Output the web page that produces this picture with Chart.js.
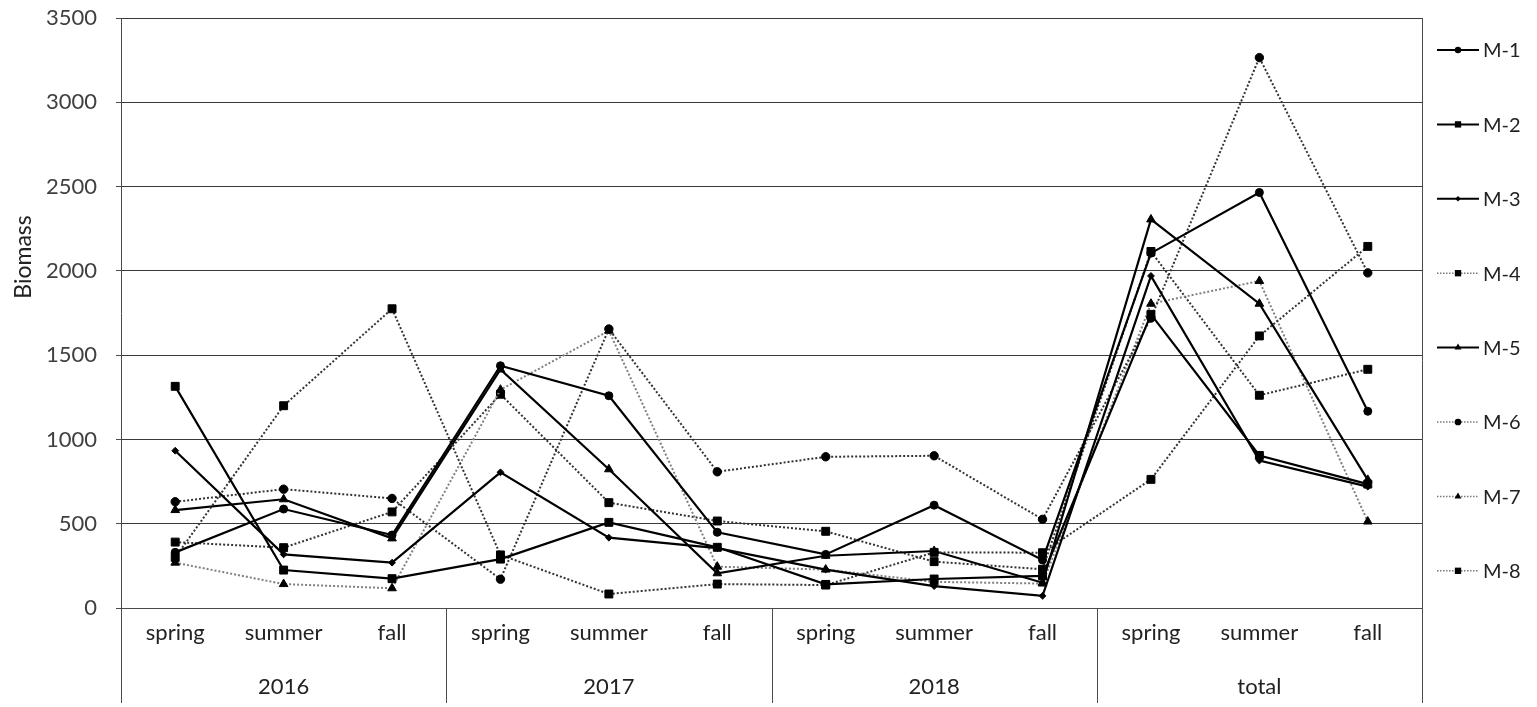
<!DOCTYPE html>
<html>
<head>
<meta charset="utf-8">
<script src="https://cdn.jsdelivr.net/npm/chart.js@4/dist/chart.umd.min.js"></script>
<style>
  html, body { margin: 0; padding: 0; background: #fff; }
  #wrap { width: 1537px; height: 707px; position: relative; }
</style>
</head>
<body>
<div id="wrap"><canvas id="chart"></canvas></div>
<script>
// Seasons repeat within each year group; the last group holds the totals.
const seasons = ['spring', 'summer', 'fall'];
const years = ['2016', '2017', '2018', 'total'];
const categories = years.flatMap(() => seasons);
const yTicks = [0, 500, 1000, 1500, 2000, 2500, 3000, 3500];

// Biomass per site, season by season (2016 → 2018, then totals)
const M1 = [330, 587, 433, 1437, 1259, 449, 318, 610, 285, 2105, 2465, 1167];
const M2 = [1315, 225, 174, 290, 508, 360, 140, 172, 190, 1742, 905, 735];
const M3 = [933, 318, 269, 805, 417, 355, 228, 130, 72, 1970, 875, 720];
const M4 = [300, 1200, 1775, 315, 83, 142, 136, 330, 328, 763, 1614, 2145];
const M5 = [581, 645, 413, 1415, 823, 206, 310, 338, 150, 2305, 1805, 760];
const M6 = [630, 705, 650, 171, 1655, 808, 897, 903, 526, 1720, 3265, 1988];
const M7 = [269, 142, 117, 1295, 1645, 245, 228, 155, 145, 1805, 1940, 513];
const M8 = [391, 358, 570, 1268, 625, 516, 455, 275, 230, 2115, 1262, 1416];

const seriesNames = ['M-1', 'M-2', 'M-3', 'M-4', 'M-5', 'M-6', 'M-7', 'M-8'];
const seriesValues = [M1, M2, M3, M4, M5, M6, M7, M8];

// Drawing styles for each site's line and marker
const looks = {
  'M-1': { point: 'circle',   r: 4,   dotted: false, color: '#000' },
  'M-2': { point: 'rect',     r: 5.6, dotted: false, color: '#000' },
  'M-3': { point: 'rectRot',  r: 3.4, dotted: false, color: '#000' },
  'M-4': { point: 'rect',     r: 5.6, dotted: true,  color: '#333' },
  'M-5': { point: 'triangle', r: 5,   dotted: false, color: '#000' },
  'M-6': { point: 'circle',   r: 4.2, dotted: true,  color: '#333' },
  'M-7': { point: 'triangle', r: 5,   dotted: true,  color: '#808080' },
  'M-8': { point: 'rect',     r: 5.6, dotted: true,  color: '#333' }
};

const datasets = seriesNames.map((name, i) => {
  const lk = looks[name];
  return {
    label: name,
    data: seriesValues[i],
    borderColor: lk.color,
    borderWidth: lk.dotted ? 2 : 2.2,
    borderDash: lk.dotted ? [2, 2] : [],
    pointStyle: lk.point,
    pointRadius: lk.r,
    pointHoverRadius: lk.r,
    pointBackgroundColor: '#000',
    pointBorderColor: '#000',
    pointBorderWidth: 1,
    fill: false,
    tension: 0
  };
});

function marker(ctx, style, r, x, y) {
  ctx.beginPath();
  if (style === 'circle') {
    ctx.arc(x, y, r, 0, Math.PI * 2);
  } else if (style === 'rect') {
    const s = r * Math.SQRT1_2;
    ctx.rect(x - s, y - s, 2 * s, 2 * s);
  } else if (style === 'rectRot') {
    ctx.moveTo(x - r, y); ctx.lineTo(x, y - r); ctx.lineTo(x + r, y); ctx.lineTo(x, y + r);
    ctx.closePath();
  } else if (style === 'triangle') {
    ctx.moveTo(x, y - r);
    ctx.lineTo(x + r * 0.866, y + r * 0.5);
    ctx.lineTo(x - r * 0.866, y + r * 0.5);
    ctx.closePath();
  }
  ctx.fill();
}

// Frame, group dividers, year row, rotated axis title and the side legend
const decor = {
  id: 'decor',
  afterDraw(chart) {
    const { ctx, chartArea: a, scales: { x } } = chart;
    const per = seasons.length;
    const foot = chart.height - 4;
    ctx.save();

    ctx.strokeStyle = '#4a4a4a';
    ctx.lineWidth = 1;
    ctx.setLineDash([]);
    // right frame edge
    ctx.beginPath();
    ctx.moveTo(Math.round(a.right) + 0.5, a.top);
    ctx.lineTo(Math.round(a.right) + 0.5, foot);
    ctx.stroke();
    // dividers between year groups, running through both label rows
    for (let g = 0; g < years.length; g++) {
      const px = g === 0 ? a.left
        : (x.getPixelForValue(g * per - 1) + x.getPixelForValue(g * per)) / 2;
      ctx.beginPath();
      ctx.moveTo(Math.round(px) + 0.5, a.bottom);
      ctx.lineTo(Math.round(px) + 0.5, foot);
      ctx.stroke();
    }

    // year labels centred under their seasons
    ctx.fillStyle = '#222';
    ctx.font = '22px Lato';
    ctx.textAlign = 'center';
    ctx.textBaseline = 'middle';
    years.forEach((yr, g) => {
      const cx = (x.getPixelForValue(g * per) + x.getPixelForValue(g * per + per - 1)) / 2;
      ctx.fillText(yr, cx, a.bottom + 79);
    });

    // y axis title
    ctx.save();
    ctx.translate(24, a.top + (a.bottom - a.top) * 0.405);
    ctx.rotate(-Math.PI / 2);
    ctx.font = '23px Lato';
    ctx.fillStyle = '#222';
    ctx.fillText('Biomass', 0, 0);
    ctx.restore();

    // legend
    const step = 74.4;
    ctx.font = '20px Lato';
    ctx.textAlign = 'left';
    chart.data.datasets.forEach((ds, i) => {
      const lk = looks[ds.label];
      const ly = a.top + 32 + i * step;
      const x0 = a.right + 15, x1 = a.right + 57, xm = (x0 + x1) / 2;
      ctx.strokeStyle = lk.dotted ? '#7a7a7a' : '#000';
      ctx.lineWidth = lk.dotted ? 1.5 : 2;
      ctx.setLineDash(lk.dotted ? [1.5, 1.5] : []);
      ctx.beginPath();
      ctx.moveTo(x0, ly); ctx.lineTo(x1, ly);
      ctx.stroke();
      ctx.setLineDash([]);
      ctx.fillStyle = '#000';
      marker(ctx, lk.point, lk.r * 0.8, xm, ly);
      ctx.fillStyle = '#222';
      ctx.fillText(ds.label, a.right + 61, ly + 1);
    });

    ctx.restore();
  }
};

new Chart(document.getElementById('chart'), {
  type: 'line',
  data: { labels: categories, datasets },
  options: {
    responsive: true,
    maintainAspectRatio: false,
    animation: false,
    layout: { padding: { top: 18, right: 115, left: 0, bottom: 0 } },
    plugins: { legend: { display: false }, tooltip: { enabled: false }, title: { display: false } },
    scales: {
      x: {
        type: 'category',
        offset: true,
        grid: { display: false, drawTicks: false },
        border: { display: true, color: '#4a4a4a', width: 1 },
        ticks: { color: '#222', font: { family: 'Lato', size: 22 }, padding: 12, maxRotation: 0, autoSkip: false },
        afterFit(s) { s.height = 99; s.paddingLeft = 0; s.paddingRight = 0; }
      },
      y: {
        min: 0,
        max: 3500,
        afterBuildTicks(s) { s.ticks = yTicks.map(v => ({ value: v })); },
        grid: { color: '#3a3a3a', lineWidth: 1, tickLength: 5, drawTicks: true, tickColor: '#4a4a4a' },
        border: { display: true, color: '#4a4a4a', width: 1 },
        ticks: { color: '#404040', font: { family: 'Lato', size: 22 }, padding: 19, callback: v => String(v) },
        afterFit(s) { s.width = 121; s.paddingTop = 0; s.paddingBottom = 0; }
      }
    }
  },
  plugins: [decor]
});
</script>
</body>
</html>
